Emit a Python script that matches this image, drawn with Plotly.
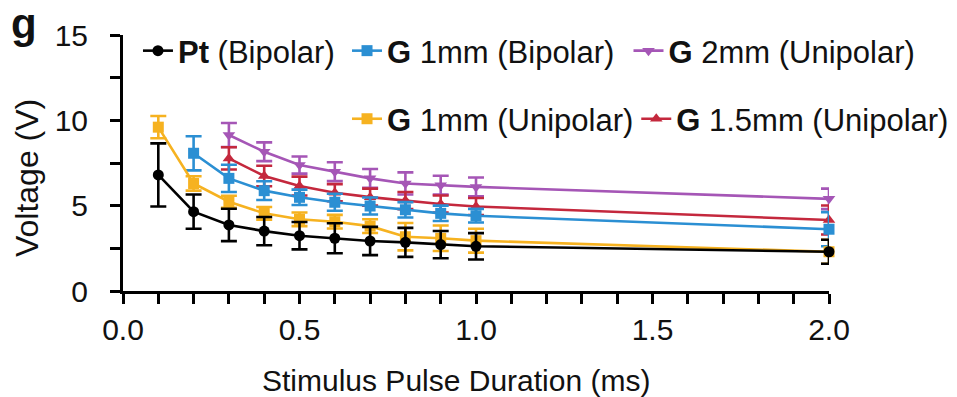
import plotly.graph_objects as go

# ---- data ----
x_pt = [0.1, 0.2, 0.3, 0.4, 0.5, 0.6, 0.7, 0.8, 0.9, 1.0, 2.0]
y_pt = [6.8, 4.65, 3.87, 3.51, 3.24, 3.09, 2.93, 2.85, 2.72, 2.62, 2.3]
e_pt = [1.85, 1.0, 0.95, 0.83, 0.8, 0.88, 0.83, 0.85, 0.8, 0.77, 0.7]

x_g1u = [0.1, 0.2, 0.3, 0.4, 0.5, 0.6, 0.7, 0.8, 0.9, 1.0, 2.0]
y_g1u = [9.6, 6.3, 5.23, 4.55, 4.2, 4.06, 3.8, 3.18, 3.09, 2.95, 2.3]
e_g1u = [0.65, 0.42, 0.35, 0.37, 0.4, 0.4, 0.4, 0.8, 0.75, 0.7, 0.7]

x_g1b = [0.2, 0.3, 0.4, 0.5, 0.6, 0.7, 0.8, 0.9, 1.0, 2.0]
y_g1b = [8.07, 6.6, 5.88, 5.49, 5.2, 4.98, 4.76, 4.55, 4.41, 3.62]
e_g1b = [1.0, 0.8, 0.55, 0.45, 0.5, 0.5, 0.45, 0.45, 0.4, 1.0]

x_g15u = [0.3, 0.4, 0.5, 0.6, 0.7, 0.8, 0.9, 1.0, 2.0]
y_g15u = [7.77, 6.74, 6.15, 5.76, 5.5, 5.3, 5.1, 4.95, 4.16]
e_g15u = [0.65, 0.6, 0.55, 0.5, 0.5, 0.5, 0.5, 0.5, 0.85]

x_g2u = [0.3, 0.4, 0.5, 0.6, 0.7, 0.8, 0.9, 1.0, 2.0]
y_g2u = [9.14, 8.16, 7.38, 6.99, 6.6, 6.3, 6.2, 6.1, 5.4]
e_g2u = [0.7, 0.55, 0.5, 0.55, 0.55, 0.65, 0.55, 0.55, 0.6]

x_tickvals = [0.0, 0.5, 1.0, 1.5, 2.0]
x_ticktext = ["0.0", "0.5", "1.0", "1.5", "2.0"]
y_tickvals = [0, 5, 10, 15]

FONT = "Liberation Sans, Arial, Helvetica, sans-serif"

series = [
    # name, x, y, err, color, symbol, legend id
    ("<b>G</b> 2mm (Unipolar)", x_g2u, y_g2u, e_g2u, "#a556b6", "triangle-down", "legend3"),
    ("<b>G</b> 1.5mm (Unipolar)", x_g15u, y_g15u, e_g15u, "#c4283d", "triangle-up", "legend5"),
    ("<b>G</b> 1mm (Bipolar)", x_g1b, y_g1b, e_g1b, "#2b8fd3", "square", "legend2"),
    ("<b>G</b> 1mm (Unipolar)", x_g1u, y_g1u, e_g1u, "#f6b220", "square", "legend4"),
    ("<b>Pt</b> (Bipolar)", x_pt, y_pt, e_pt, "#000000", "circle", "legend"),
]

fig = go.Figure()
for name, xs, ys, es, col, sym, leg in series:
    fig.add_trace(go.Scatter(
        x=xs, y=ys, name=name, mode="lines+markers",
        line=dict(color=col, width=2.6),
        marker=dict(color=col, symbol=sym, size=11),
        error_y=dict(type="data", array=es, visible=True, color=col,
                     thickness=2.6, width=8),
        legend=leg, cliponaxis=False,
    ))

def leg(x, y):
    return dict(orientation="h", x=x, y=y, xanchor="left", yanchor="top",
                font=dict(size=31, color="#111"), bgcolor="rgba(0,0,0,0)",
                itemwidth=30)

fig.update_layout(
    width=957, height=397,
    margin=dict(l=123, r=128, t=35, b=106, autoexpand=False),
    paper_bgcolor="white", plot_bgcolor="white",
    font=dict(family=FONT, size=30, color="#111"),
    showlegend=True,
    legend=leg(0.0212, 1.043),
    legend2=leg(0.3173, 1.043),
    legend3=leg(0.716, 1.043),
    legend4=leg(0.3173, 0.777),
    legend5=leg(0.727, 0.777),
    xaxis=dict(range=[0, 2.0], tickvals=x_tickvals, ticktext=x_ticktext,
               showgrid=False, zeroline=False, showline=True, linecolor="black",
               linewidth=3, ticks="outside", ticklen=10, tickwidth=3,
               tickcolor="black", ticklabelstandoff=0,
               tickfont=dict(size=30, color="#111"),
               minor=dict(dtick=0.1, tick0=0, ticks="outside", ticklen=10,
                          tickwidth=3, tickcolor="black", showgrid=False)),
    yaxis=dict(range=[0, 15], tickvals=y_tickvals,
               showgrid=False, zeroline=False, showline=True, linecolor="black",
               linewidth=3, ticks="outside", ticklen=10, tickwidth=3,
               tickcolor="black", ticklabelstandoff=16,
               tickfont=dict(size=30, color="#111"),
               minor=dict(dtick=2.5, tick0=0, ticks="outside", ticklen=10,
                          tickwidth=3, tickcolor="black", showgrid=False)),
    annotations=[
        dict(text="Stimulus Pulse Duration (ms)", xref="paper", yref="paper",
             x=0.472, y=-0.35, xanchor="center", yanchor="middle",
             showarrow=False, font=dict(size=30, color="#111")),
        dict(text="Voltage (V)", xref="paper", yref="paper", textangle=-90,
             x=-0.135, y=0.44, xanchor="center", yanchor="middle",
             showarrow=False, font=dict(size=32, color="#111")),
        dict(text="<b>g</b>", xref="paper", yref="paper",
             x=-0.140, y=0.945, xanchor="center", yanchor="bottom",
             showarrow=False, font=dict(size=42, color="#111")),
    ],
)

fig.write_html("out.html")
